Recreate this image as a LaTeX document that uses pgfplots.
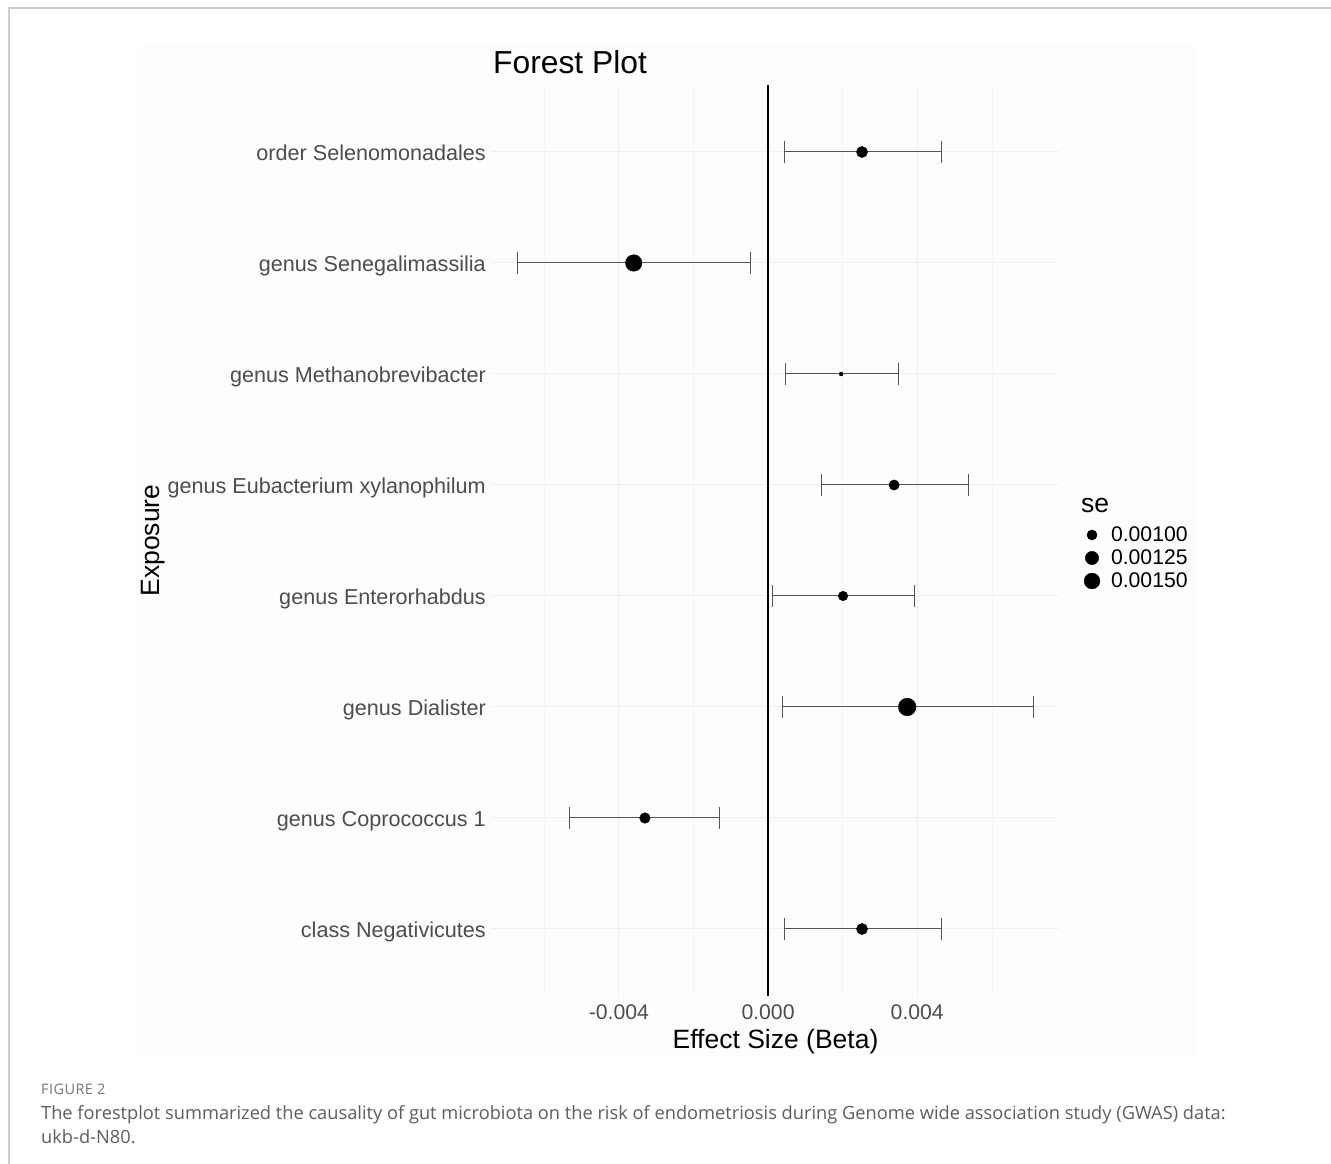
\documentclass[border=0pt]{standalone}
\usepackage{fontspec}
\setmainfont{Liberation Sans}
\newfontfamily\capfont{Open Sans}
\usepackage{pgfplots}
\pgfplotsset{compat=1.18}
\usepackage{pgfplotstable}

\definecolor{tickgray}{HTML}{4D4D4D}
\definecolor{gridmajor}{HTML}{F0F0F0}
\definecolor{gridminor}{HTML}{F5F5F5}
\definecolor{errgray}{HTML}{555555}
\definecolor{panelbg}{HTML}{FDFDFD}
\definecolor{framegray}{HTML}{CDCDCD}
\definecolor{capgray}{HTML}{5E5E5E}
\definecolor{figgray}{HTML}{777777}

% pos: row on the y axis (8 = top); beta with 95% CI and standard error
\pgfplotstableread[col sep=comma]{
pos,beta,lo,hi,se
8,0.00252,0.00043,0.00464,0.00107
7,-0.00360,-0.00671,-0.00048,0.00159
6,0.00196,0.00046,0.00349,0.000774
5,0.00338,0.00142,0.00537,0.00101
4,0.00201,0.00013,0.00392,0.000966
3,0.00373,0.00038,0.00711,0.00172
2,-0.00330,-0.00532,-0.00129,0.00103
1,0.00252,0.00043,0.00464,0.00107
}\forestdata

\begin{document}
\begin{tikzpicture}
\path[use as bounding box] (0pt,0pt) rectangle (1331pt,1164pt);
\fill[white] (0pt,0pt) rectangle (1331pt,1164pt);
\draw[framegray, line width=2pt] (8.5pt,0pt) -- (8.5pt,1155.5pt) -- (1331pt,1155.5pt);
\fill[panelbg] (138pt,106pt) rectangle (1197pt,1119pt);

\begin{axis}[
  at={(492pt,168.4pt)}, anchor=south west,
  scale only axis, width=567pt, height=910.2pt,
  xmin=-0.0074, xmax=0.0078, ymin=0.4, ymax=8.6,
  axis line style={draw=none},
  major tick length=0pt, minor tick length=0pt,
  scaled x ticks=false,
  xtick={-0.004,0,0.004},
  xticklabels={-0.004,0.000,0.004},
  minor xtick={-0.006,-0.002,0.002,0.006},
  ytick={1,2,3,4,5,6,7,8},
  yticklabels={class Negativicutes,genus Coprococcus 1,genus Dialister,genus Enterorhabdus,genus Eubacterium xylanophilum,genus Methanobrevibacter,genus Senegalimassilia,order Selenomonadales},
  xmajorgrids, xminorgrids, ymajorgrids,
  major grid style={draw=gridmajor, line width=1pt},
  minor grid style={draw=gridminor, line width=0.6pt},
  xticklabel style={font=\fontsize{21.2}{25}\selectfont, text=tickgray, inner sep=0pt, anchor=base, yshift=-24pt},
  yticklabel style={font=\fontsize{21.6}{25}\selectfont, text=tickgray, inner sep=0pt, anchor=base east, xshift=-6pt, yshift=-9pt},
  point meta min=0.000774, point meta max=0.00172,
  legend cell align=left,
  legend style={at={(axis description cs:1.04233,0.51868)}, anchor=north west,
    draw=none, fill=none, inner sep=0pt, outer sep=0pt, row sep=0pt, column sep=10pt,
    nodes={inner sep=0pt, text=black, font=\fontsize{21.2}{25}\selectfont}},
]
% reference line at zero effect
\addplot[forget plot, black, line width=2pt] coordinates {(0,0.4) (0,8.6)};
% confidence intervals
\addplot[forget plot, only marks, mark=none,
  error bars/.cd, x dir=both, x explicit,
  error bar style={line width=1pt, color=errgray},
  error mark options={line width=1pt, color=errgray, mark size=11pt, rotate=90}]
  table[x=beta, y=pos, x error plus expr=\thisrow{hi}-\thisrow{beta}, x error minus expr=\thisrow{beta}-\thisrow{lo}] {\forestdata};
% point estimates, sized by se
\addplot[forget plot, scatter, only marks, mark=*,
  point meta=\thisrow{se},
  scatter/use mapped color={draw=black, fill=black},
  scatter/@pre marker code/.append style={/tikz/mark size={1.47*(1+5*sqrt(\pgfplotspointmetatransformed/1000))}}]
  table[x=beta, y=pos] {\forestdata};
% size legend
\addlegendimage{black, mark=*, legend image code/.code={\path[draw=none, fill=none] (-9pt,-11.5pt) rectangle (9pt,11.5pt); \fill[black] (0pt,0pt) circle[radius=5.06pt];}}
\addlegendentry{0.00100}
\addlegendimage{black, mark=*, legend image code/.code={\path[draw=none, fill=none] (-9pt,-11.5pt) rectangle (9pt,11.5pt); \fill[black] (0pt,0pt) circle[radius=6.68pt];}}
\addlegendentry{0.00125}
\addlegendimage{black, mark=*, legend image code/.code={\path[draw=none, fill=none] (-9pt,-11.5pt) rectangle (9pt,11.5pt); \fill[black] (0pt,0pt) circle[radius=7.91pt];}}
\addlegendentry{0.00150}
\end{axis}

\node[anchor=west, inner sep=0pt, font=\fontsize{31.8}{36}\selectfont] at (493pt,1102pt) {Forest Plot};
\node[anchor=center, inner sep=0pt, font=\fontsize{26.5}{30}\selectfont] at (775.5pt,122pt) {Effect Size (Beta)};
\node[anchor=center, inner sep=0pt, rotate=90, font=\fontsize{26.5}{30}\selectfont] at (153pt,623.5pt) {Exposure};
\node[anchor=west, inner sep=0pt, font=\fontsize{26.5}{30}\selectfont] at (1081pt,658pt) {se};

\node[anchor=base west, inner sep=0pt, text=figgray, font=\capfont\fontsize{14.5}{17}\selectfont] at (41pt,69pt) {\addfontfeature{LetterSpace=3}FIGURE 2};
\node[anchor=base west, inner sep=0pt, text=capgray, font=\capfont\fontsize{18.25}{21}\selectfont] at (41pt,44pt) {The forestplot summarized the causality of gut microbiota on the risk of endometriosis during Genome wide association study (GWAS) data:};
\node[anchor=base west, inner sep=0pt, text=capgray, font=\capfont\fontsize{18.25}{21}\selectfont] at (41pt,20pt) {ukb-d-N80.};
\end{tikzpicture}
\end{document}
